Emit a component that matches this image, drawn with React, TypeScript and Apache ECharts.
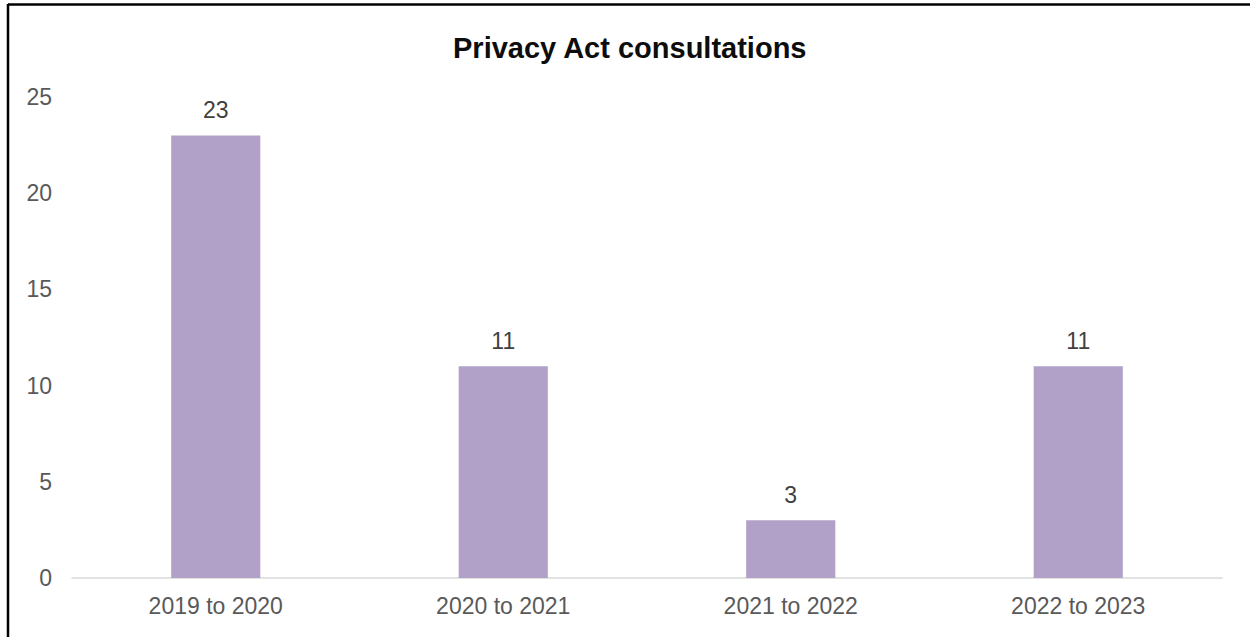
import React, { useEffect, useRef } from "react";
import * as echarts from "echarts";

const categories = ["2019 to 2020", "2020 to 2021", "2021 to 2022", "2022 to 2023"];
const consultations = [23, 11, 3, 11];
const yTicks = { min: 0, max: 25, interval: 5 };
const titleText = "Privacy Act consultations";

export default function App() {
  const ref = useRef<HTMLDivElement>(null);
  useEffect(() => {
    if (!ref.current) return;
    const chart = echarts.init(ref.current, null, { renderer: "svg" });
    const font = "'Liberation Sans', Arial, sans-serif";
    chart.setOption({
      animation: false,
      backgroundColor: "#ffffff",
      title: {
        text: titleText,
        left: 448,
        top: 28,
        textStyle: { fontFamily: font, fontSize: 29, fontWeight: "bold", color: "#0d0d0d" },
      },
      grid: { left: 72, right: 28, top: 97, bottom: 59, containLabel: false },
      xAxis: {
        type: "category",
        data: categories,
        axisLine: { show: true, lineStyle: { color: "#d9d9d9", width: 1.5 } },
        axisTick: { show: false },
        axisLabel: { fontFamily: font, fontSize: 23, color: "#595959", margin: 16 },
      },
      yAxis: {
        type: "value",
        min: yTicks.min,
        max: yTicks.max,
        interval: yTicks.interval,
        axisLine: { show: false },
        axisTick: { show: false },
        splitLine: { show: false },
        axisLabel: { fontFamily: font, fontSize: 23, color: "#595959", margin: 20 },
      },
      series: [
        {
          type: "bar",
          data: consultations,
          barWidth: "31%",
          itemStyle: { color: "#b1a0c7" },
          label: {
            show: true,
            position: "top",
            distance: 14,
            fontFamily: font,
            fontSize: 23,
            color: "#404040",
          },
        },
      ],
      graphic: [
        { type: "line", shape: { x1: 8, y1: 4.5, x2: 1250, y2: 4.5 }, style: { stroke: "#000", lineWidth: 2.5 } },
        { type: "line", shape: { x1: 8, y1: 4, x2: 8, y2: 637 }, style: { stroke: "#000", lineWidth: 2.5 } },
      ],
    });
    return () => chart.dispose();
  }, []);
  return (
    <div
      ref={ref}
      style={{ position: "absolute", left: 0, top: 0, width: 1250, height: 637 }}
    />
  );
}
